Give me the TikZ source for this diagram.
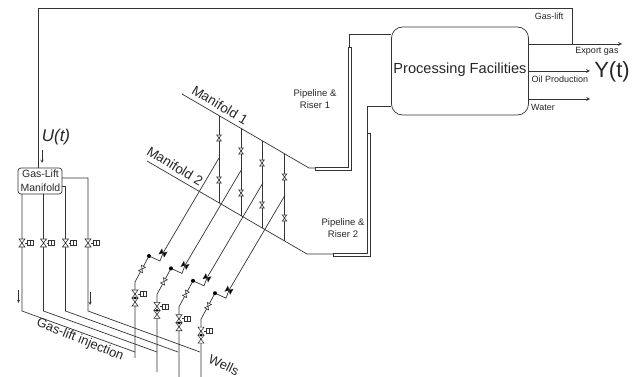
\documentclass[tikz,border=0pt]{standalone}
\usepackage{fontspec}
\setmainfont{Liberation Sans}
\tikzset{
  valve/.pic={\draw[fill=white,line width=.6pt] (-3,-4) -- (3,-4) -- (-3,4) -- (3,4) -- cycle;},
  actuator/.pic={\draw[line width=.6pt] (3,0) -- (5,0) (5,-2.5) rectangle (11,2.5) (8,-2.5) -- (8,2.5);}
}
\begin{document}
\begin{tikzpicture}[x=1pt,y=-1pt,>=stealth,line width=.7pt,draw=black!80]
  \tikzstyle{box}=[draw,rounded corners=11pt,inner sep=0pt]
  \tikzstyle{lbl}=[inner sep=0pt,text=black!85,align=center]
  \useasboundingbox (0,0) rectangle (641,377);
  % main boxes
  \node[box,minimum width=137pt,minimum height=88pt] (P_F) at (460,71) {};
  \node[lbl,font=\fontsize{14.6}{16}\selectfont] (P_T) at (460,70) {Processing Facilities};
  \node[box,rounded corners=3pt,minimum width=44pt,minimum height=26pt] (G_M) at (40,181) {};
  \node[lbl,font=\fontsize{10.5}{14}\selectfont] (G_T) at (40.5,181) {Gas-Lift\\Manifold};
  % labels
  \node[lbl,font=\itshape\fontsize{17}{20}\selectfont] (L_U) at (56,137) {U(t)};
  \node[lbl,font=\fontsize{22}{26}\selectfont] (L_Y) at (612,72) {Y(t)};
  \node[lbl,font=\fontsize{9}{11}\selectfont] (L_G) at (549,16) {Gas-lift};
  \node[lbl,font=\fontsize{9}{11}\selectfont] (L_E) at (597,51) {Export gas};
  \node[lbl,font=\fontsize{9}{11}\selectfont] (L_O) at (560,79) {Oil Production};
  \node[lbl,font=\fontsize{9}{11}\selectfont] (L_W) at (543,107) {Water};
  \node[lbl,font=\fontsize{9.5}{12}\selectfont] (L_R1) at (315,99) {Pipeline \&\\Riser 1};
  \node[lbl,font=\fontsize{9.5}{12}\selectfont] (L_R2) at (343,228) {Pipeline \&\\Riser 2};
  \node[lbl,rotate=-31,font=\fontsize{13.5}{15}\selectfont] (L_M1) at (220,105) {Manifold 1};
  \node[lbl,rotate=-31,font=\fontsize{13.5}{15}\selectfont] (L_M2) at (175,166) {Manifold 2};
  \node[lbl,rotate=-22,font=\fontsize{13}{15}\selectfont] (L_I) at (80,340) {Gas-lift injection};
  \node[lbl,rotate=-25,font=\fontsize{13}{15}\selectfont] (L_W2) at (224,365) {Wells};
  % gas-lift return and outputs
  \coordinate (R_E) at (572,44);
  \coordinate (O_O) at (590,71);
  \coordinate (O_W) at (590,99);
  \draw (P_F.east |- R_E) -- (R_E) -- (572,8) -- (38,8) -- (38,168);
  \draw[->] (P_F.east |- R_E) -- (622,44);
  \draw[->] (P_F.east |- O_O) -- (O_O);
  \draw[->] (P_F.east |- O_W) -- (O_W);
  \draw[->,line width=.5pt] (42,150) -- (42,163);
  \draw[->,line width=.5pt] (18.5,290) -- (18.5,303);
  \draw[->,line width=.5pt] (90,292) -- (90,305);
  % manifolds and risers
  \coordinate (M_1) at (182,94);
  \coordinate (M_2) at (147,161);
  \coordinate (R_1) at (349,34);
  \coordinate (R_2) at (367.5,106);
  \draw (M_1) -- (309,168) -- (315,168);
  \draw (M_2) -- (307,254) -- (333,254);
  \draw (315,167.5) -- (348.5,167.5) -- (348.5,47) -- (351,47) -- (351,170) -- (315,170) -- cycle;
  \draw (333,253.5) -- (367.5,253.5) -- (367.5,133) -- (370,133) -- (370,256) -- (333,256) -- cycle;
  \draw (349,47) -- (R_1) -- (P_F.west |- R_1);
  \draw (367.5,133) -- (R_2) -- (P_F.west |- R_2);
  % gas-lift lines
  \draw (22,194) -- (22,311) -- (135,352);
  \draw (43.5,194) -- (43.5,311) -- (157,352);
  \draw (62,186.5) -- (65.5,186.5) -- (65.5,311) -- (178,352);
  \draw (62,178) -- (88,178) -- (88,311) -- (200,352);
  \foreach \x in {22,43.5,65.5,88}{
    \pic at (\x,243) {valve};
    \pic at (\x,243) {actuator};
  }
  % verticals between the manifolds
  \foreach \x/\a/\b/\c/\d in {219/116/138/180/203,241/128/151/193/216,262/141/163/205/228,284.5/154/177/218/241}{
    \draw (\x,\a) -- (\x,\d);
    \pic[scale=.75] at (\x,\b) {valve};
    \pic[scale=.75] at (\x,\c) {valve};
  }
  % wells
  \foreach \i/\bot in {0/358,1/372,2/377,3/377}{
    \begin{scope}[shift={(\i*22,\i*12.4)}]
      \draw (135,\bot-\i*12.4) -- (135,282) -- (149,256) -- (160,261) -- (163,253) -- (219,158);
      \pic[scale=.75,rotate=-28] at (142,269) {valve};
      \pic at (135,294) {valve};
      \pic at (135,302) {valve};
      \pic at (135,294) {actuator};
      \fill (135,298) circle (1.5pt);
      \fill (149,256) circle (2pt);
      \draw[fill=black,line width=.4pt,rotate around={60:(163,253)}] (160,250) -- (166,250) -- (160,256) -- (166,256) -- cycle;
    \end{scope}
  }
\end{tikzpicture}
\end{document}
